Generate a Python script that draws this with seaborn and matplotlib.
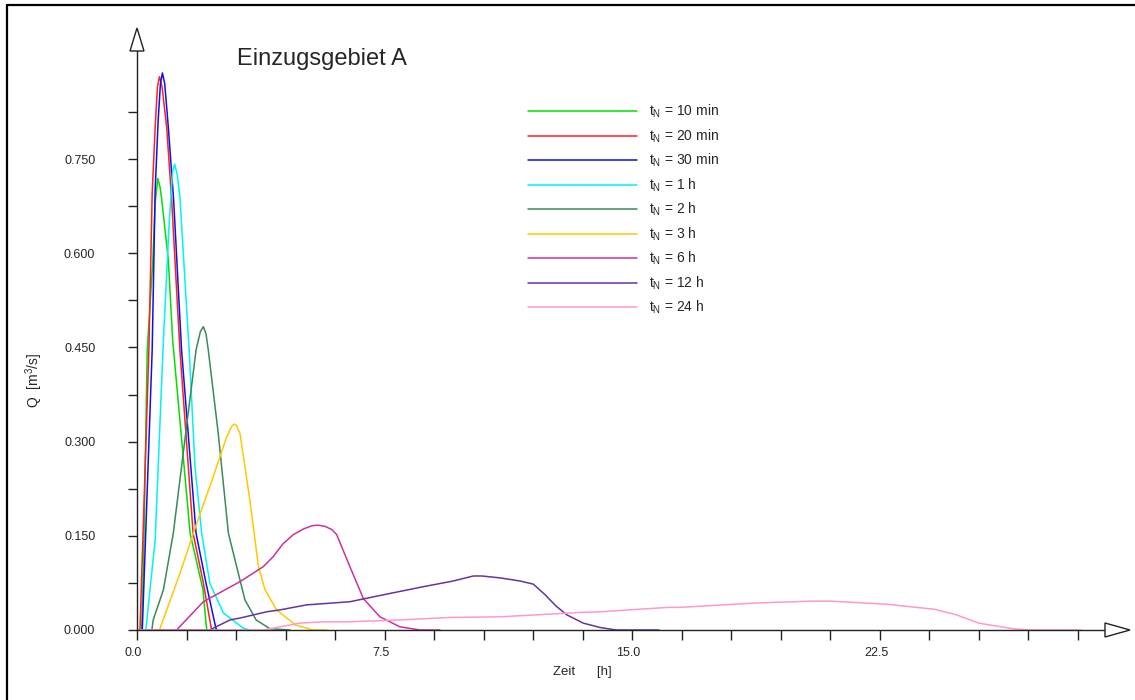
import numpy as np
import pandas as pd
import matplotlib
matplotlib.use("Agg")
import matplotlib.pyplot as plt
import seaborn as sns
from matplotlib.patches import Polygon
from matplotlib.lines import Line2D
from matplotlib.transforms import ScaledTranslation

# hydrographs, Einzugsgebiet A  (time in h, discharge in m3/s)
t_10min = [0.0, 0.14, 0.20, 0.31, 0.48, 0.55, 0.63, 0.70, 0.75, 0.95, 1.08, 1.61, 2.00, 2.10, 2.12]
q_10min = [0.0, 0.0, 0.111, 0.446, 0.589, 0.680, 0.719, 0.705, 0.685, 0.589, 0.462, 0.154, 0.064, 0.006, 0.0]

t_20min = [0.0, 0.09, 0.36, 0.46, 0.55, 0.62, 0.68, 0.76, 0.90, 1.05, 1.30, 1.70, 2.01, 2.26]
q_20min = [0.0, 0.0, 0.446, 0.695, 0.800, 0.865, 0.881, 0.865, 0.800, 0.685, 0.446, 0.154, 0.075, 0.0]

t_30min = [0.0, 0.16, 0.46, 0.55, 0.64, 0.71, 0.77, 0.84, 0.95, 1.11, 1.35, 1.79, 2.09, 2.39, 2.42]
q_30min = [0.0, 0.0, 0.446, 0.700, 0.810, 0.870, 0.887, 0.870, 0.800, 0.685, 0.446, 0.154, 0.075, 0.003, 0.0]

t_1h = [0.0, 0.27, 0.34, 0.55, 0.80, 0.98, 1.08, 1.14, 1.22, 1.30, 1.58, 1.76, 1.96, 2.21, 2.62, 3.22, 3.42]
q_1h = [0.0, 0.0, 0.037, 0.143, 0.462, 0.653, 0.730, 0.742, 0.725, 0.690, 0.446, 0.258, 0.154, 0.074, 0.027, 0.003, 0.0]

t_2h = [0.0, 0.45, 0.49, 0.80, 1.10, 1.35, 1.60, 1.79, 1.92, 2.01, 2.09, 2.16, 2.46, 2.77, 3.27, 3.61, 4.03, 4.64]
q_2h = [0.0, 0.0, 0.016, 0.064, 0.154, 0.260, 0.366, 0.446, 0.475, 0.483, 0.472, 0.446, 0.314, 0.154, 0.048, 0.016, 0.002, 0.0]

t_3h = [0.0, 0.68, 0.88, 1.30, 1.81, 2.31, 2.72, 2.88, 2.95, 3.02, 3.12, 3.42, 3.68, 3.88, 4.23, 4.80, 5.34, 5.75]
q_3h = [0.0, 0.0, 0.029, 0.090, 0.170, 0.244, 0.308, 0.325, 0.328, 0.325, 0.313, 0.207, 0.101, 0.064, 0.032, 0.008, 0.0, 0.0]

t_6h = [0.0, 1.20, 2.01, 3.12, 3.83, 4.13, 4.42, 4.74, 5.05, 5.30, 5.49, 5.70, 5.90, 6.05, 6.45, 6.86, 7.36, 7.97, 8.58, 9.18]
q_6h = [0.0, 0.0, 0.045, 0.077, 0.101, 0.117, 0.137, 0.152, 0.161, 0.166, 0.167, 0.165, 0.160, 0.152, 0.101, 0.050, 0.021, 0.005, 0.0, 0.0]

t_12h = [0.0, 2.21, 2.39, 2.82, 3.12, 3.93, 4.33, 5.14, 6.45, 7.46, 8.68, 9.58, 10.19, 10.45, 11.00, 11.61,
         12.01, 12.37, 12.70, 13.03, 13.52, 14.03, 14.52, 15.82]
q_12h = [0.0, 0.0, 0.005, 0.016, 0.019, 0.029, 0.032, 0.040, 0.045, 0.056, 0.069, 0.078, 0.086, 0.086, 0.083, 0.078,
         0.073, 0.056, 0.038, 0.024, 0.011, 0.004, 0.0, 0.0]

t_24h = [0.0, 3.82, 4.13, 4.94, 5.65, 6.35, 7.97, 9.48, 11.00, 13.45, 14.03, 16.09, 16.45, 18.75, 20.47, 21.00,
         22.72, 24.17, 24.84, 25.50, 26.55, 27.06, 28.61]
q_24h = [0.0, 0.0, 0.003, 0.011, 0.013, 0.013, 0.016, 0.020, 0.021, 0.028, 0.029, 0.036, 0.036, 0.043, 0.046, 0.046,
         0.041, 0.033, 0.024, 0.011, 0.002, 0.0, 0.0]

durations = ["10 min", "20 min", "30 min", "1 h", "2 h", "3 h", "6 h", "12 h", "24 h"]
times = [t_10min, t_20min, t_30min, t_1h, t_2h, t_3h, t_6h, t_12h, t_24h]
flows = [q_10min, q_20min, q_30min, q_1h, q_2h, q_3h, q_6h, q_12h, q_24h]
colors = ["#00e000", "#ff2020", "#1010ee", "#00f4f4", "#3a8a5c", "#ffc800", "#cc3399", "#6633a0", "#ff99cc"]

x_ticks = np.arange(0, 28.51, 1.5)
y_ticks = np.arange(0, 0.826, 0.075)

df = pd.concat([pd.DataFrame({"Zeit": t, "Q": q, "tN": d}) for t, q, d in zip(times, flows, durations)],
               ignore_index=True)

sns.set_theme(style="white")
plt.rcParams["font.family"] = ["Liberation Sans", "DejaVu Sans"]
plt.rcParams["mathtext.default"] = "regular"

W, H = 1135, 700
fig = plt.figure(figsize=(W / 100, H / 100), dpi=100)
x0, y0, x1, y1 = 137, 630, 1130, 28          # pixel positions of axis origin and arrow tips
px_h = 33.0                                   # pixels per hour
px_q = 628.0                                  # pixels per m3/s
ax = fig.add_axes([x0 / W, 1 - y0 / H, (x1 - x0) / W, (y0 - y1) / H])
xmax = (x1 - x0) / px_h
ymax = (y0 - y1) / px_q

sns.lineplot(data=df, x="Zeit", y="Q", hue="tN", hue_order=durations,
             palette=dict(zip(durations, colors)), sort=False, estimator=None,
             linewidth=1.1, ax=ax)

ax.set_xlim(0, xmax)
ax.set_ylim(0, ymax)

# axes with arrows
for s in ["top", "right"]:
    ax.spines[s].set_visible(False)
x_arrow_base = (1105 - x0) / px_h
y_arrow_base = (y0 - 51) / px_q
ax.spines["bottom"].set_bounds(0, x_arrow_base)
ax.spines["left"].set_bounds(0, y_arrow_base)
for s in ["bottom", "left"]:
    ax.spines[s].set_linewidth(1.0)
    ax.spines[s].set_color("#222222")
hx = 7 / px_q
hy = 7 / px_h
ax.add_patch(Polygon([[x_arrow_base, -hx], [xmax, 0], [x_arrow_base, hx]], closed=True,
                     facecolor="white", edgecolor="#222222", linewidth=1.0, clip_on=False, zorder=5))
ax.add_patch(Polygon([[-hy, y_arrow_base], [0, ymax], [hy, y_arrow_base]], closed=True,
                     facecolor="white", edgecolor="#222222", linewidth=1.0, clip_on=False, zorder=5))

ax.set_xticks(x_ticks)
ax.set_xticklabels([f"{v:.1f}" if abs(v / 7.5 - round(v / 7.5)) < 1e-6 else "" for v in x_ticks])
ax.set_yticks(y_ticks)
ax.set_yticklabels([f"{v:.3f}" if abs(v / 0.15 - round(v / 0.15)) < 1e-6 else "" for v in y_ticks])
ax.tick_params(axis="x", direction="out", length=7.2, width=1.0, color="#222222",
               pad=5, labelsize=9, bottom=True)
ax.tick_params(axis="y", direction="out", length=6.5, width=1.0, color="#222222",
               pad=23.5, labelsize=9, left=True)
shift = ScaledTranslation(-3.5 / 100, 0, fig.dpi_scale_trans)
for lab in ax.get_xticklabels():
    lab.set_transform(lab.get_transform() + shift)

ax.set_xlabel("Zeit      [h]", fontsize=9.5)
ax.xaxis.set_label_coords((582 - x0) / (x1 - x0), -(666 - y0) / (y0 - y1))
ax.set_ylabel("Q  [m$^3$/s]", fontsize=10)
ax.yaxis.set_label_coords(-(x0 - 45) / (x1 - x0), (y0 - 380) / (y0 - y1))

fig.text(237 / W, 1 - 65 / H, "Einzugsgebiet A", fontsize=17, va="baseline", ha="left")

handles, labels = ax.get_legend_handles_labels()
ax.legend(handles, [r"$t_N$ = " + d for d in durations], loc="upper left",
          bbox_to_anchor=(528 / W, 1 - 103 / H), bbox_transform=fig.transFigure,
          frameon=False, borderpad=0, borderaxespad=0, fontsize=10,
          handlelength=7.85, handletextpad=0.85, labelspacing=0.51)

# page frame
fig.add_artist(Line2D([7 / W, 7 / W], [0, 1 - 5 / H], color="black", linewidth=1.6))
fig.add_artist(Line2D([7 / W, 1], [1 - 5 / H, 1 - 5 / H], color="black", linewidth=1.6))

fig.savefig("out.png", dpi=100)
